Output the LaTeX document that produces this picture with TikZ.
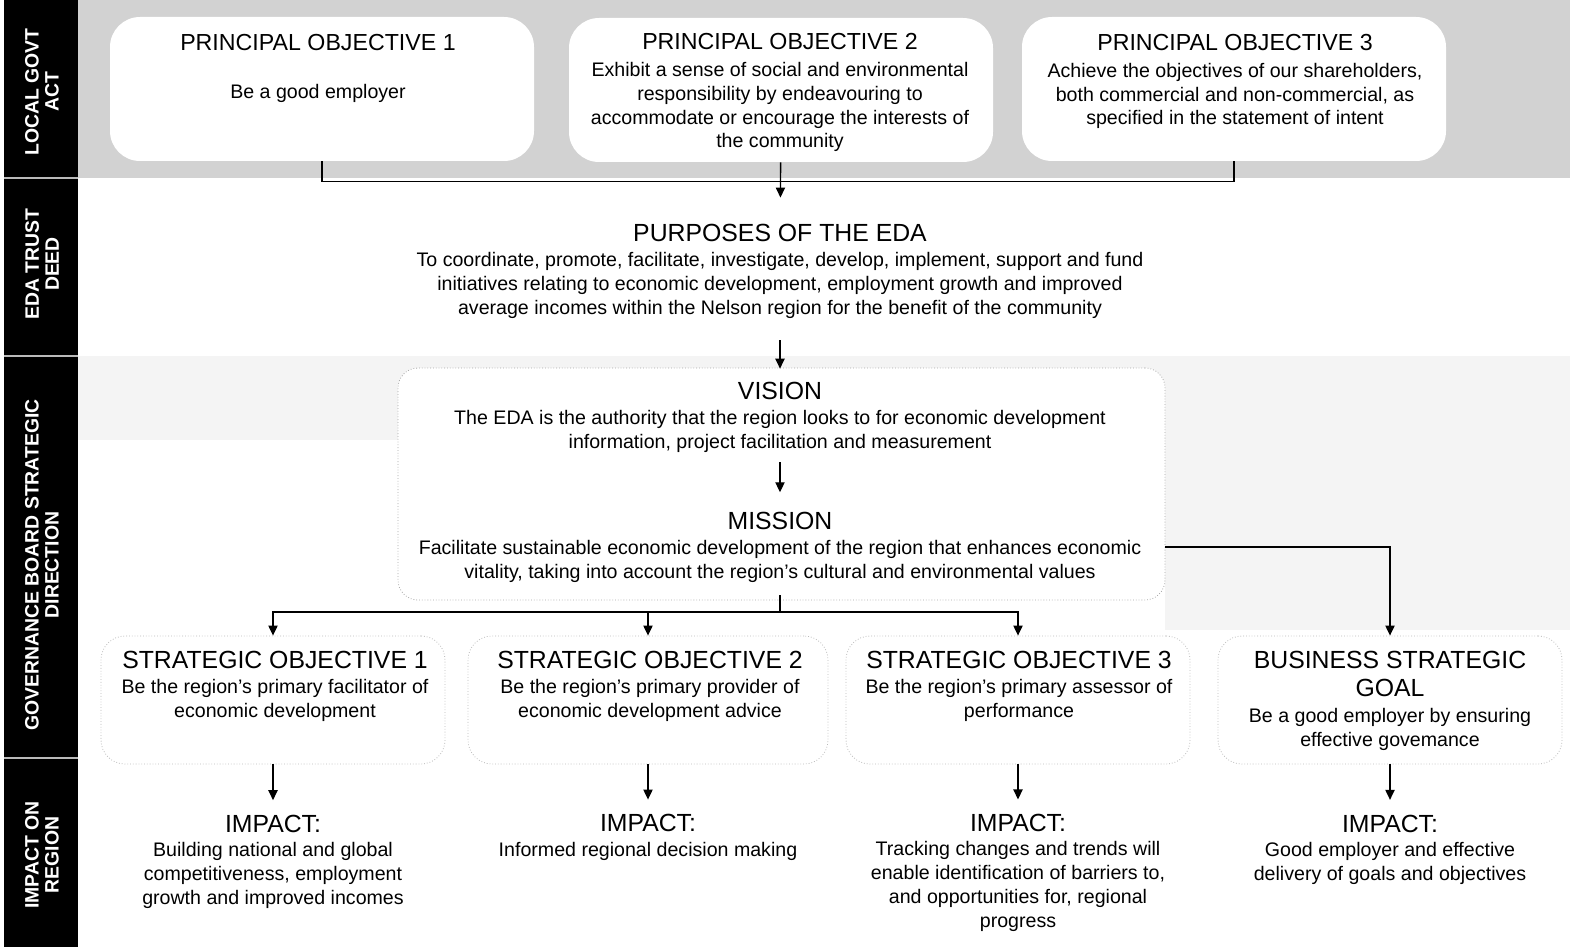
\documentclass[tikz,border=0pt]{standalone}
\usepackage{fontspec}
\setmainfont{Liberation Sans}
\usepackage{tikz}
\usetikzlibrary{arrows.meta}

\newcommand{\hd}{\fontsize{12.4}{14}\selectfont}
\newcommand{\phd}{\fontsize{11.6}{14}\selectfont}
\newcommand{\bodyfont}{\fontsize{9.8}{11.85}\selectfont}
\newcommand{\sidefont}{\fontsize{9.7}{10}\selectfont\bfseries}

\begin{document}
\begin{tikzpicture}[
        x=0.5pt, y=-0.5pt,
        pobox/.style={rectangle, fill=white, rounded corners=15pt,
                     minimum width=212pt, minimum height=72pt, inner sep=0pt},
        sobox/.style={rectangle, draw=gray!55, densely dotted, rounded corners=12pt,
                     minimum width=172pt, minimum height=64pt, inner sep=0pt},
        vmbox/.style={rectangle, fill=white, draw=gray!70, densely dotted, rounded corners=10pt,
                     minimum width=383.5pt, minimum height=116pt, inner sep=0pt},
        txt/.style={align=center, inner sep=0pt, anchor=base, font=\bodyfont},
        side/.style={rotate=90, align=center, text=white, font=\sidefont},
        arrow/.style={-{Triangle[length=5pt, width=4.6pt]}, line width=0.7pt},
        line/.style={line width=0.7pt}
    ]
        \useasboundingbox (0,0) rectangle (1570,947);

        % Background bands
        \fill[gray!35] (78,0) rectangle (1570,178);
        \fill[gray!9] (78,356) rectangle (1570,440);
        \fill[gray!9] (1165,440) rectangle (1570,630);

        % Side bar
        \fill[black] (4,0) rectangle (78,947);
        \foreach \y in {178,356,758}
            \draw[gray!55, line width=1pt] (4,\y) -- (78,\y);
        \node[side] (sact) at (42,92) {LOCAL GOVT\\ACT};
        \node[side] (sdeed) at (42,264) {EDA TRUST\\DEED};
        \node[side] (sgov) at (42,565) {GOVERNANCE BOARD STRATEGIC\\DIRECTION};
        \node[side] (simp) at (42,855) {IMPACT ON\\REGION};

        % Principal objectives (base = last line)
        \node[pobox] (po1) at (322,89) {};
        \node[pobox] (po2) at (781,90) {};
        \node[pobox] (po3) at (1234,89) {};
        \node[txt] (po1t) at (318,99) {{\phd PRINCIPAL OBJECTIVE 1}\\[12.6pt]
            Be a good employer};
        \node[txt] (po2t) at (780,148) {{\phd PRINCIPAL OBJECTIVE 2}\\[1.6pt]
            Exhibit a sense of social and environmental\\
            responsibility by endeavouring to\\
            accommodate or encourage the interests of\\
            the community};
        \node[txt] (po3t) at (1235,125) {{\phd PRINCIPAL OBJECTIVE 3}\\[1.6pt]
            Achieve the objectives of our shareholders,\\
            both commercial and non-commercial, as\\
            specified in the statement of intent};

        % Trust deed
        \node[txt] (purp) at (780,314) {{\hd PURPOSES OF THE EDA}\\[0.6pt]
            To coordinate, promote, facilitate, investigate, develop, implement, support and fund\\
            initiatives relating to economic development, employment growth and improved\\
            average incomes within the Nelson region for the benefit of the community};

        % Vision and mission
        \node[vmbox] (vm) at (781.5,484) {};
        \node[txt] (vis) at (780,448) {{\hd VISION}\\[0.6pt]
            The EDA is the authority that the region looks to for economic development\\
            information, project facilitation and measurement};
        \node[txt] (mis) at (780,578) {{\hd MISSION}\\[0.6pt]
            Facilitate sustainable economic development of the region that enhances economic\\
            vitality, taking into account the region's cultural and environmental values};
        \coordinate (fork) at (780,612);

        % Strategic objectives
        \node[sobox] (so1) at (273,700) {};
        \node[sobox, minimum width=180pt] (so2) at (648,700) {};
        \node[sobox] (so3) at (1018,700) {};
        \node[sobox] (bsg) at (1390,700) {};
        \node[txt] (so1t) at (275,717) {{\hd STRATEGIC OBJECTIVE 1}\\[0.6pt]
            Be the region's primary facilitator of\\ economic development};
        \node[txt] (so2t) at (650,717) {{\hd STRATEGIC OBJECTIVE 2}\\[0.6pt]
            Be the region's primary provider of\\ economic development advice};
        \node[txt] (so3t) at (1019,717) {{\hd STRATEGIC OBJECTIVE 3}\\[0.6pt]
            Be the region's primary assessor of\\ performance};
        \node[txt] (bsgt) at (1390,746) {{\hd BUSINESS STRATEGIC}\\[2.2pt] {\hd GOAL}\\[1.2pt]
            Be a good employer by ensuring\\ effective govemance};

        % Impacts
        \node[txt] (imp1) at (273,904) {{\hd IMPACT:}\\[0.3pt]
            Building national and global\\ competitiveness, employment\\
            growth and improved incomes};
        \node[txt] (imp2) at (648,856) {{\hd IMPACT:}\\[0.3pt]
            Informed regional decision making};
        \node[txt] (imp3) at (1018,927) {{\hd IMPACT:}\\[0.3pt]
            Tracking changes and trends will\\ enable identification of barriers to,\\
            and opportunities for, regional\\ progress};
        \node[txt] (imp4) at (1390,880) {{\hd IMPACT:}\\[0.3pt]
            Good employer and effective\\ delivery of goals and objectives};

        % Connections
        \draw[line] (po1.south) -- ++(0,20) -| (po3.south);
        \draw[arrow, shorten >=13.2pt] (po2) -- (purp);
        \draw[arrow, shorten <=11pt, shorten >=6.5pt] (purp) -- (vis);
        \draw[arrow, shorten <=5pt, shorten >=9.7pt] (vis) -- (mis);
        \draw[line, shorten <=6.5pt] (mis) -- (fork);
        \draw[arrow] (fork) -| (so1);
        \draw[arrow] (fork) -| (so3);
        \draw[arrow] (fork -| so2) -- (so2);
        \draw[arrow] (vm.east |- mis) -| (bsg);
        \foreach \s/\i in {so1/imp1, so2/imp2, so3/imp3, bsg/imp4}
            \draw[arrow, shorten >=7.2pt] (\s) -- (\i);
    \end{tikzpicture}
\end{document}
